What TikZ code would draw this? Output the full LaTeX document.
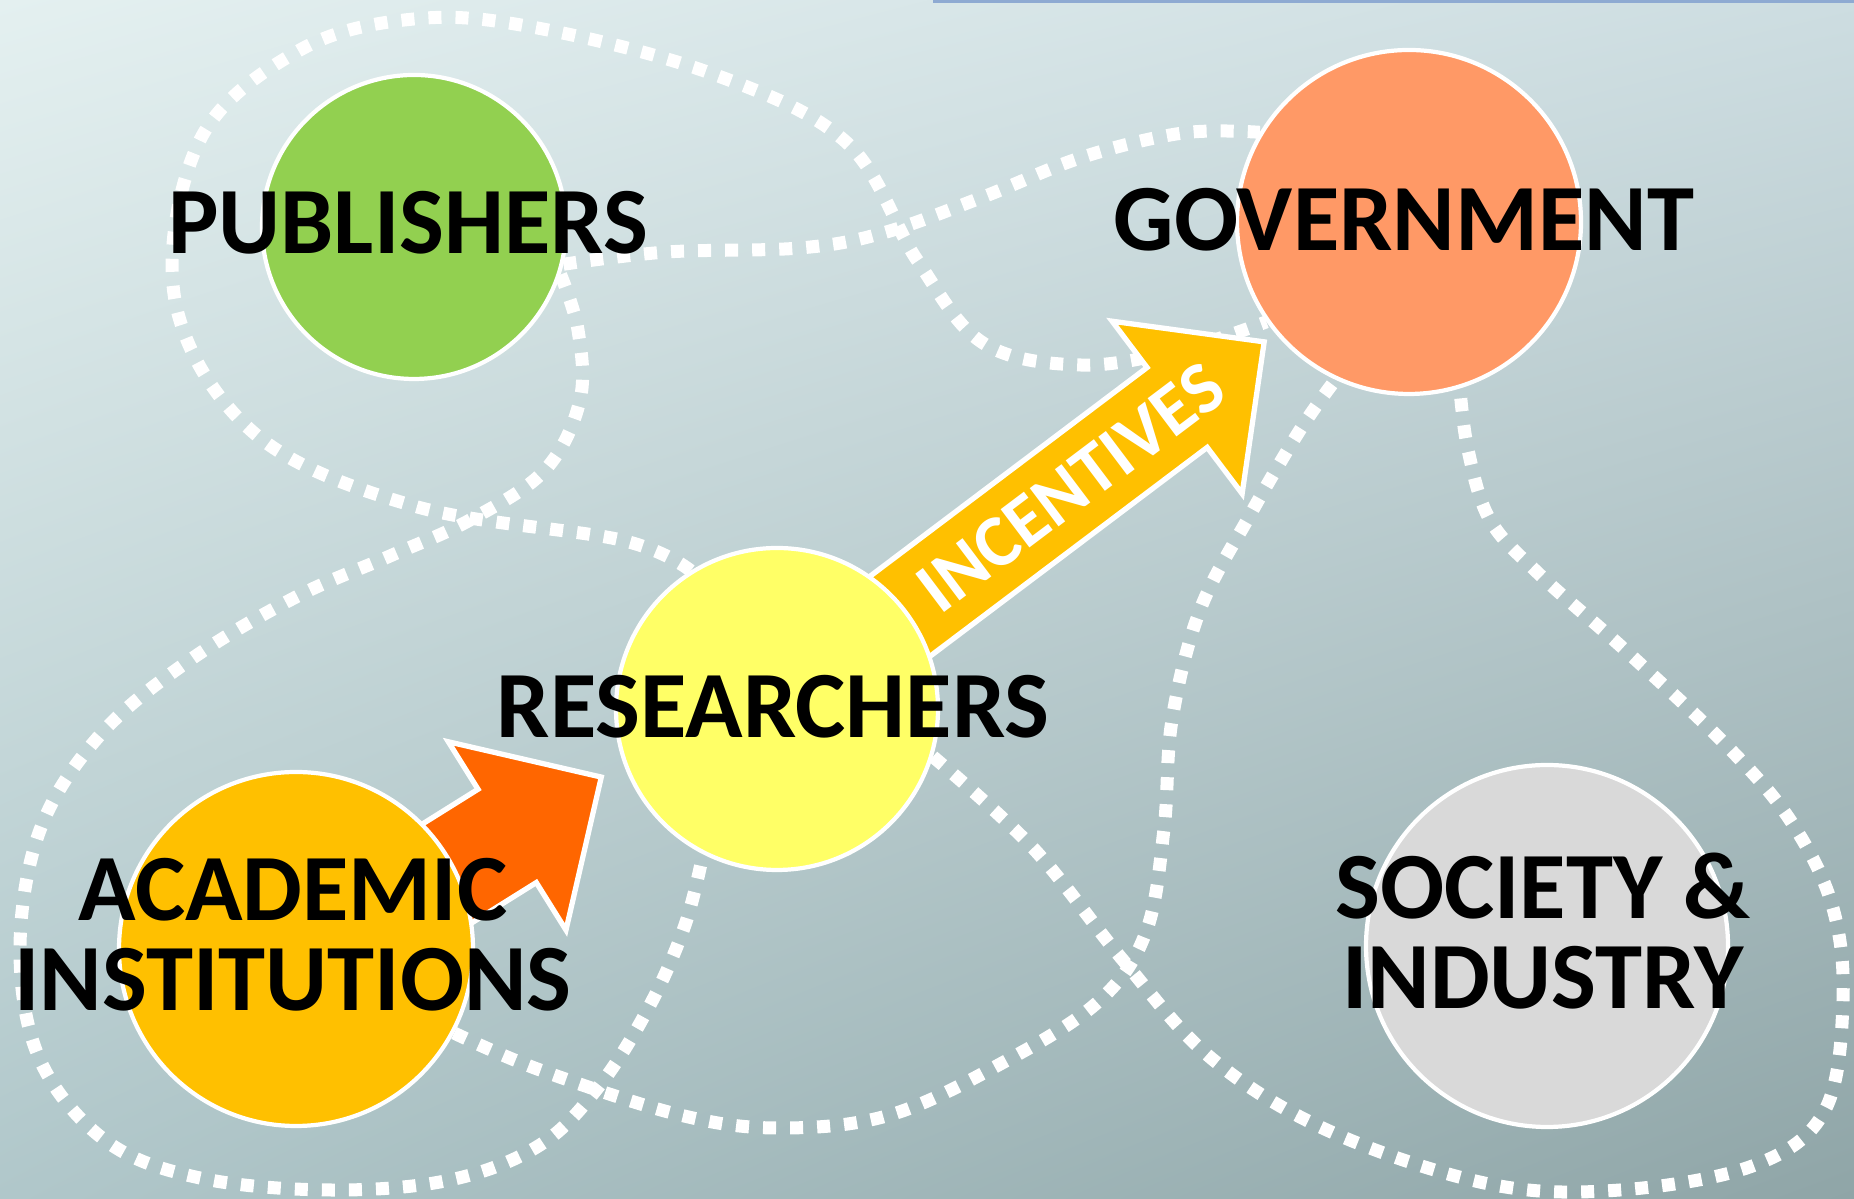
\documentclass[tikz,border=0pt]{standalone}
\usepackage{fontspec}
\setmainfont{Carlito}
\usetikzlibrary{calc,shadings}

\pgfdeclarelayer{bg}
\pgfdeclarelayer{links}
\pgfsetlayers{bg,links,main}

\definecolor{pubgreen}{HTML}{92D050}
\definecolor{govorange}{HTML}{FF9966}
\definecolor{resyellow}{HTML}{FFFF66}
\definecolor{acagold}{HTML}{FFC000}
\definecolor{socgray}{HTML}{D9D9D9}
\definecolor{incyellow}{HTML}{FFC000}
\definecolor{acaarrow}{HTML}{FF6600}
\definecolor{topblue}{HTML}{8EAAD2}
\definecolor{bgul}{RGB}{228,240,240}
\definecolor{bgur}{RGB}{205,221,225}
\definecolor{bgll}{RGB}{176,199,202}
\definecolor{bglr}{RGB}{143,165,167}

\tikzset{
  actor/.style={circle, draw=white, line width=1.2pt, inner sep=0pt},
  lbl/.style={font=\fontsize{27}{25.5}\selectfont\bfseries, align=center, inner sep=0pt},
  inctext/.style={font=\fontsize{21}{21}\selectfont\bfseries, text=white, inner sep=0pt},
  dots/.style={white, line width=3.7pt, dash pattern=on 3.7pt off 4pt},
  fatarrow/.style={draw=white, line width=1.5pt, line join=miter},
}

\begin{document}
\begin{tikzpicture}

\useasboundingbox (0,0) rectangle (18.54,11.99);

\begin{pgfonlayer}{bg}
\shade[upper left=bgul, upper right=bgur, lower left=bgll, lower right=bglr]
  (0,0) rectangle (18.54,11.99);
\fill[topblue] (9.33,11.96) rectangle (18.54,11.99);
\end{pgfonlayer}

% the five actors
\node[actor, fill=pubgreen,  minimum size=3.04cm] (pub) at (4.14,9.72) {};
\node[actor, fill=govorange, minimum size=3.44cm] (gov) at (14.09,9.77) {};
\node[actor, fill=resyellow, minimum size=3.22cm] (res) at (7.77,4.90) {};
\node[actor, fill=acagold,   minimum size=3.54cm] (aca) at (2.96,2.50) {};
\node[actor, fill=socgray,   minimum size=3.62cm] (soc) at (15.47,2.53) {};

\begin{pgfonlayer}{links}
% dotted links
\draw[dots] plot[smooth, tension=0.6] coordinates {(res.122) (6.21,6.59) (4.14,6.93)
  (2.54,7.66) (1.75,8.99) (2.00,10.59) (3.00,11.49) (4.14,11.80) (5.32,11.72)
  (7.10,11.26) (8.46,10.57) (9.17,9.39) (9.83,8.56) (10.80,8.34) (11.80,8.49) (gov.215)};
\draw[dots] plot[smooth, tension=0.6] coordinates {(pub.346) (6.67,9.47) (8.00,9.51)
  (8.83,9.66) (9.83,10.02) (10.83,10.42) (11.83,10.66) (gov.149)};
\draw[dots] plot[smooth, tension=0.6] coordinates {(pub.342) (5.78,8.69) (5.80,7.99)
  (5.45,7.29) (4.70,6.79) (3.90,6.43) (2.96,6.02) (1.90,5.39) (1.00,4.64) (0.40,3.69)
  (0.20,2.49) (0.40,1.39) (1.06,0.58) (2.00,0.21) (3.30,0.09) (4.50,0.19) (5.40,0.54)
  (6.00,1.14) (6.50,1.94) (6.85,2.74) (res.243)};
\draw[dots] plot[smooth, tension=0.6] coordinates {(aca.332) (5.40,1.29) (6.80,0.84)
  (7.80,0.71) (8.90,0.84) (10.04,1.37) (10.99,1.98) (11.46,2.67) (11.64,3.70)
  (11.72,4.79) (12.00,5.89) (12.50,6.84) (13.00,7.69) (gov.245)};
\draw[dots] plot[smooth, tension=0.6] coordinates {(res.343) (10.33,3.51) (11.22,2.40)
  (12.11,1.41) (13.29,0.68) (14.89,0.15) (16.20,0.09) (17.55,0.34) (18.25,0.89)
  (18.43,1.99) (18.32,2.94) (17.90,3.79) (17.26,4.54) (16.25,5.49) (15.40,6.24)
  (14.90,6.79) (14.68,7.49) (gov.287)};

% incentives arrow
\begin{scope}[shift={(res.center)}, rotate=37]
\filldraw[fatarrow, fill=incyellow] (0,-0.5) -- (5.01,-0.5) -- (5.01,-1.08) -- (6.10,0)
  -- (5.01,1.08) -- (5.01,0.5) -- (0,0.5) -- cycle;
\node[inctext, rotate=37] (inclbl) at (3.68,0) {INCENTIVES};
\end{scope}

% academic arrow
\begin{scope}[shift={(aca.center)}, rotate=32]
\filldraw[fatarrow, fill=acaarrow] (0,-0.71) -- (2.39,-0.71) -- (2.39,-1.27) -- (3.50,-0.16)
  -- (2.39,0.95) -- (2.39,0.39) -- (0,0.39) -- cycle;
\end{scope}
\end{pgfonlayer}

% labels
\node[lbl] (publbl) at (4.08,9.76) {PUBLISHERS};
\node[lbl] (govlbl) at (14.04,9.79) {GOVERNMENT};
\node[lbl] (reslbl) at (7.73,4.92) {RESEARCHERS};
\node[lbl] (acalbl) at (2.93,2.64) {ACADEMIC\\INSTITUTIONS};
\node[lbl] (soclbl) at (15.43,2.68) {SOCIETY \&\\INDUSTRY};

\end{tikzpicture}
\end{document}
